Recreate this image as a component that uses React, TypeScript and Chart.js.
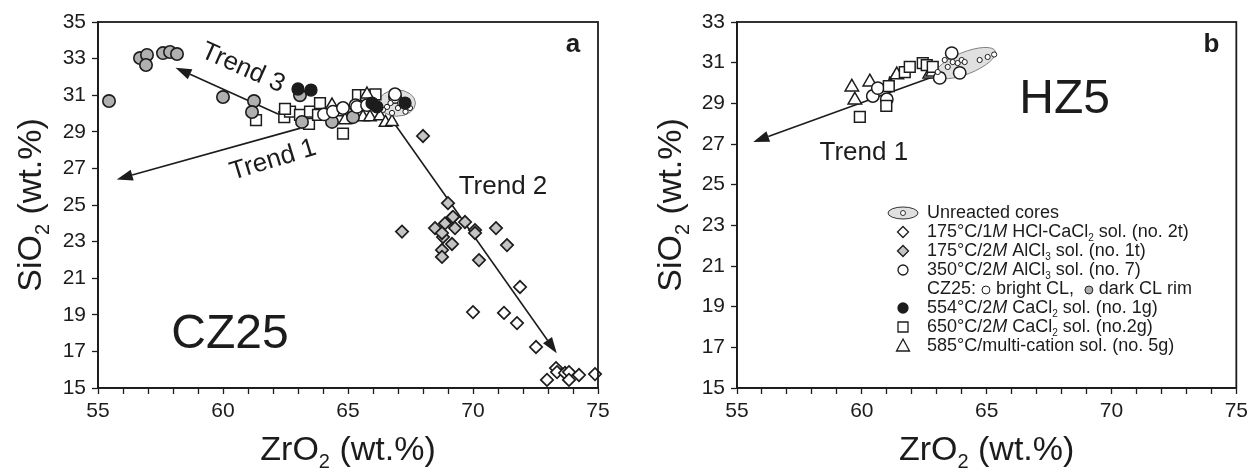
import React, { useEffect, useRef } from 'react';
import { Chart, registerables } from 'chart.js';

Chart.register(...registerables);

const FONT = '"Liberation Sans", Arial, Helvetica, sans-serif';
const INK = '#1c1c1c';
const GRAY_CIRCLE = '#b0b0b0';
const GRAY_DIAMOND = '#c4c4c4';

// ---------------- tick labels ----------------
const xMajorTicks = [55, 60, 65, 70, 75];
const yTicksA = [15, 17, 19, 21, 23, 25, 27, 29, 31, 33, 35];
const yTicksB = [15, 17, 19, 21, 23, 25, 27, 29, 31, 33];

// ---------------- panel a (CZ25) ----------------
const aHclDiamondX = [71.88, 70.0, 71.24, 71.76, 72.52, 72.96, 73.32, 73.36, 73.68, 73.84, 73.84, 74.24, 74.88];
const aHclDiamondY = [20.52, 19.15, 19.1, 18.55, 17.24, 15.44, 16.09, 15.87, 15.82, 15.87, 15.44, 15.71, 15.76];

const aAlDiamondX = [68.0, 69.0, 67.16, 68.48, 68.88, 69.16, 69.2, 69.28, 68.8, 68.76, 69.16, 68.76, 68.76, 69.68, 70.08, 70.08, 70.92, 71.36, 70.24];
const aAlDiamondY = [28.77, 25.1, 23.55, 23.74, 24.0, 24.3, 24.35, 23.74, 23.25, 23.47, 22.87, 22.54, 22.16, 24.07, 23.63, 23.47, 23.74, 22.81, 21.99];

const aDarkRimX = [55.44, 56.68, 56.96, 56.92, 57.6, 57.88, 58.16, 60.0, 61.24, 61.16, 63.16, 63.08, 64.36, 65.2];
const aDarkRimY = [30.68, 33.03, 33.2, 32.65, 33.3, 33.36, 33.25, 30.9, 30.68, 30.08, 29.54, 31.0, 29.54, 29.8];

const aCaCl554X = [63.0, 63.52, 65.96, 66.16, 67.28];
const aCaCl554Y = [31.34, 31.28, 30.57, 30.36, 30.57];

const aCaCl650X = [61.32, 62.45, 62.68, 63.08, 63.44, 63.48, 63.88, 63.8, 64.8, 65.4, 65.72, 66.1, 62.48];
const aCaCl650Y = [29.64, 29.8, 30.1, 29.92, 29.43, 30.1, 30.57, 29.92, 28.9, 31.0, 31.0, 31.05, 30.25];

const aMulti585X = [64.36, 64.8, 64.88, 65.76, 65.6, 65.88, 66.28, 66.5, 66.76];
const aMulti585Y = [30.45, 30.08, 29.64, 31.05, 29.8, 29.8, 29.85, 29.5, 29.54];

const aAl350X = [64.04, 64.4, 64.8, 65.3, 65.36, 65.76, 66.88, 66.88];
const aAl350Y = [29.95, 30.1, 30.3, 30.45, 30.36, 30.46, 30.9, 31.05];

const aCoreX = [66.56, 66.76, 67.0, 67.48, 66.7, 67.08, 67.3, 66.4];
const aCoreY = [30.36, 30.03, 30.3, 30.3, 30.57, 30.57, 30.1, 30.2];

// ---------------- panel b (HZ5) ----------------
const bMulti585X = [59.6, 59.72, 60.32, 61.4, 62.72, 62.84];
const bMulti585Y = [29.8, 29.16, 30.05, 30.4, 30.44, 30.54];

const bCaCl650X = [59.92, 60.98, 61.08, 61.72, 61.92, 62.44, 62.6, 62.84];
const bCaCl650Y = [28.33, 28.87, 29.85, 30.54, 30.79, 30.98, 30.88, 30.79];

const bAl350X = [60.44, 60.64, 61.0, 63.12, 63.6, 63.92];
const bAl350Y = [29.36, 29.75, 29.2, 30.25, 31.47, 30.5];

const bCoreX = [63.04, 63.32, 63.44, 63.64, 63.84, 64.0, 64.12, 64.72, 65.04, 65.3];
const bCoreY = [30.54, 31.13, 30.79, 31.03, 30.98, 31.13, 31.03, 31.13, 31.28, 31.4];

// ---------------- legend labels ----------------
type Seg = { t?: string; i?: boolean; sub?: boolean; b?: boolean; dot?: string };
const legendLabels: { icon: string; segs: Seg[] }[] = [
  { icon: 'ellipse', segs: [{ t: 'Unreacted cores' }] },
  { icon: 'diamondWhite', segs: [{ t: '175°C/1' }, { t: 'M', i: true }, { t: ' HCl-CaCl' }, { t: '2', sub: true }, { t: ' sol. (no. 2t)' }] },
  { icon: 'diamondGray', segs: [{ t: '175°C/2' }, { t: 'M', i: true }, { t: ' AlCl' }, { t: '3', sub: true }, { t: ' sol. (no. 1t)' }] },
  { icon: 'circleWhite', segs: [{ t: '350°C/2' }, { t: 'M', i: true }, { t: ' AlCl' }, { t: '3', sub: true }, { t: ' sol. (no. 7)' }] },
  { icon: 'none', segs: [{ t: 'CZ25: ' }, { dot: '#ffffff' }, { t: ' bright CL,  ' }, { dot: GRAY_CIRCLE }, { t: ' dark CL rim' }] },
  { icon: 'circleBlack', segs: [{ t: '554°C/2' }, { t: 'M', i: true }, { t: ' CaCl' }, { t: '2', sub: true }, { t: ' sol. (no. 1g)' }] },
  { icon: 'square', segs: [{ t: '650°C/2' }, { t: 'M', i: true }, { t: ' CaCl' }, { t: '2', sub: true }, { t: ' sol. (no.2g)' }] },
  { icon: 'triangle', segs: [{ t: '585°C/multi-cation sol. (no. 5g)' }] },
];

const xTitle: Seg[] = [{ t: 'ZrO' }, { t: '2', sub: true }, { t: ' (wt.%)' }];
const yTitle: Seg[] = [{ t: 'SiO' }, { t: '2', sub: true }, { t: ' (wt.%)' }];

// ---------------- drawing helpers ----------------
function segFont(s: Seg, size: number) {
  const sz = s.sub ? Math.round(size * 0.58) : size;
  return `${s.i ? 'italic ' : ''}${s.b ? 'bold ' : ''}${sz}px ${FONT}`;
}
function richWidth(ctx: CanvasRenderingContext2D, segs: Seg[], size: number) {
  let w = 0;
  for (const s of segs) {
    if (s.dot) { w += size * 0.55; continue; }
    ctx.font = segFont(s, size);
    w += ctx.measureText(s.t || '').width;
  }
  return w;
}
function drawRich(ctx: CanvasRenderingContext2D, segs: Seg[], x: number, y: number, size: number, align: 'left' | 'center') {
  const w = richWidth(ctx, segs, size);
  let cx = align === 'center' ? x - w / 2 : x;
  ctx.textAlign = 'left';
  ctx.textBaseline = 'middle';
  for (const s of segs) {
    if (s.dot) {
      const r = size * 0.22;
      ctx.beginPath();
      ctx.arc(cx + size * 0.275, y + 1, r, 0, Math.PI * 2);
      ctx.fillStyle = s.dot;
      ctx.fill();
      ctx.lineWidth = 1;
      ctx.strokeStyle = INK;
      ctx.stroke();
      ctx.fillStyle = INK;
      cx += size * 0.55;
      continue;
    }
    ctx.font = segFont(s, size);
    ctx.fillText(s.t || '', cx, y + (s.sub ? size * 0.34 : 0));
    cx += ctx.measureText(s.t || '').width;
  }
}
function drawArrow(ctx: CanvasRenderingContext2D, x1: number, y1: number, x2: number, y2: number, hl: number, hw: number) {
  const ang = Math.atan2(y2 - y1, x2 - x1);
  const bx = x2 - Math.cos(ang) * hl;
  const by = y2 - Math.sin(ang) * hl;
  ctx.beginPath();
  ctx.moveTo(x1, y1);
  ctx.lineTo(bx, by);
  ctx.stroke();
  ctx.beginPath();
  ctx.moveTo(x2, y2);
  ctx.lineTo(bx + Math.sin(ang) * hw / 2, by - Math.cos(ang) * hw / 2);
  ctx.lineTo(bx - Math.sin(ang) * hw / 2, by + Math.cos(ang) * hw / 2);
  ctx.closePath();
  ctx.fill();
}
function drawIcon(ctx: CanvasRenderingContext2D, icon: string, x: number, y: number) {
  ctx.lineWidth = 1.3;
  ctx.strokeStyle = INK;
  ctx.beginPath();
  if (icon === 'ellipse') {
    ctx.ellipse(x, y, 15, 6, 0, 0, Math.PI * 2);
    ctx.fillStyle = '#e0e0e0';
    ctx.fill();
    ctx.lineWidth = 0.9;
    ctx.stroke();
    ctx.beginPath();
    ctx.arc(x, y, 2.5, 0, Math.PI * 2);
    ctx.fillStyle = '#fff';
    ctx.fill();
    ctx.stroke();
    return;
  }
  if (icon === 'diamondWhite' || icon === 'diamondGray') {
    const r = 5.5;
    ctx.moveTo(x - r, y); ctx.lineTo(x, y - r); ctx.lineTo(x + r, y); ctx.lineTo(x, y + r); ctx.closePath();
    ctx.fillStyle = icon === 'diamondGray' ? GRAY_DIAMOND : '#fff';
  } else if (icon === 'circleWhite' || icon === 'circleBlack') {
    ctx.arc(x, y, 5, 0, Math.PI * 2);
    ctx.fillStyle = icon === 'circleBlack' ? INK : '#fff';
  } else if (icon === 'square') {
    ctx.rect(x - 5, y - 5, 10, 10);
    ctx.fillStyle = '#fff';
  } else if (icon === 'triangle') {
    ctx.moveTo(x, y - 7); ctx.lineTo(x + 6.5, y + 5); ctx.lineTo(x - 6.5, y + 5); ctx.closePath();
    ctx.fillStyle = '#fff';
  } else return;
  ctx.fill();
  ctx.stroke();
}

// ---------------- panel specs ----------------
type Series = { x: number[]; y: number[]; style: string; r: number; fill: string; bw: number };
type Arrow = { x1: number; y1: number; x2: number; y2: number; hl: number; hw: number };
type Txt = { t: string; x: number; y: number; size: number; rot: number; bold?: boolean };
type PanelSpec = {
  width: number; left: number; yAxisWidth: number; padRight: number;
  yMin: number; yMax: number; yTicks: number[]; yTitleX: number;
  series: Series[];
  ellipse: { x: number; y: number; rx: number; ry: number; rot: number };
  arrows: Arrow[];
  texts: Txt[];
  legend: boolean;
};

const panelA: PanelSpec = {
  width: 626, left: 0, yAxisWidth: 98, padRight: 28,
  yMin: 15, yMax: 35, yTicks: yTicksA, yTitleX: 32,
  series: [
    { x: aCaCl554X, y: aCaCl554Y, style: 'circle', r: 6, fill: INK, bw: 1.3 },
    { x: aCoreX, y: aCoreY, style: 'circle', r: 2.6, fill: '#fff', bw: 1 },
    { x: aAl350X, y: aAl350Y, style: 'circle', r: 6.2, fill: '#fff', bw: 1.5 },
    { x: aDarkRimX, y: aDarkRimY, style: 'circle', r: 6.2, fill: GRAY_CIRCLE, bw: 1.6 },
    { x: aMulti585X, y: aMulti585Y, style: 'triangle', r: 7.2, fill: '#fff', bw: 1.5 },
    { x: aCaCl650X, y: aCaCl650Y, style: 'rect', r: 7.6, fill: '#fff', bw: 1.5 },
    { x: aAlDiamondX, y: aAlDiamondY, style: 'rectRot', r: 6.2, fill: GRAY_DIAMOND, bw: 1.7 },
    { x: aHclDiamondX, y: aHclDiamondY, style: 'rectRot', r: 6.2, fill: '#fff', bw: 1.7 },
  ],
  ellipse: { x: 66.96, y: 30.57, rx: 0.74, ry: 0.72, rot: 0 },
  arrows: [
    { x1: 62.2, y1: 29.97, x2: 58.1, y2: 32.5, hl: 16, hw: 11 },
    { x1: 63.1, y1: 29.2, x2: 55.75, y2: 26.4, hl: 16, hw: 11 },
    { x1: 66.7, y1: 29.75, x2: 73.35, y2: 16.9, hl: 16, hw: 11 },
  ],
  texts: [
    { t: 'Trend 3', x: 60.8, y: 32.49, size: 26, rot: 24 },
    { t: 'Trend 1', x: 62.0, y: 27.45, size: 26, rot: -17 },
    { t: 'Trend 2', x: 71.2, y: 25.98, size: 26, rot: 0 },
    { t: 'CZ25', x: 60.28, y: 17.9, size: 48, rot: 0 },
    { t: 'a', x: 74.0, y: 33.74, size: 26, rot: 0, bold: true },
  ],
  legend: false,
};

const panelB: PanelSpec = {
  width: 627, left: 626, yAxisWidth: 111, padRight: 13,
  yMin: 15, yMax: 33, yTicks: yTicksB, yTitleX: 46,
  series: [
    { x: bCoreX, y: bCoreY, style: 'circle', r: 2.6, fill: '#fff', bw: 1 },
    { x: bCaCl650X, y: bCaCl650Y, style: 'rect', r: 7.6, fill: '#fff', bw: 1.5 },
    { x: bAl350X, y: bAl350Y, style: 'circle', r: 6.2, fill: '#fff', bw: 1.5 },
    { x: bMulti585X, y: bMulti585Y, style: 'triangle', r: 7.8, fill: '#fff', bw: 1.5 },
  ],
  ellipse: { x: 64.16, y: 30.98, rx: 1.28, ry: 0.54, rot: -0.38 },
  arrows: [
    { x1: 63.3, y1: 30.5, x2: 55.65, y2: 27.1, hl: 16, hw: 11 },
    { x1: 61.32, y1: 30.54, x2: 61.02, y2: 30.0, hl: 7, hw: 5 },
  ],
  texts: [
    { t: 'Trend 1', x: 60.08, y: 26.56, size: 26, rot: 0 },
    { t: 'HZ5', x: 68.12, y: 29.16, size: 48, rot: 0 },
    { t: 'b', x: 74.0, y: 31.87, size: 26, rot: 0, bold: true },
  ],
  legend: true,
};

function makeDecor(p: PanelSpec) {
  return {
    id: 'decor',
    beforeDatasetsDraw(chart: any) {
      const { ctx, scales } = chart;
      const xs = scales.x, ys = scales.y;
      ctx.save();
      const e = p.ellipse;
      const cx = xs.getPixelForValue(e.x), cy = ys.getPixelForValue(e.y);
      const rx = Math.abs(xs.getPixelForValue(e.x + e.rx) - cx);
      const ry = Math.abs(ys.getPixelForValue(e.y + e.ry) - cy);
      ctx.beginPath();
      ctx.ellipse(cx, cy, rx, ry, e.rot, 0, Math.PI * 2);
      ctx.fillStyle = '#e0e0e0';
      ctx.fill();
      ctx.strokeStyle = '#666';
      ctx.lineWidth = 0.8;
      ctx.stroke();
      ctx.strokeStyle = INK;
      ctx.fillStyle = INK;
      ctx.lineWidth = 1.6;
      for (const a of p.arrows) {
        drawArrow(ctx, xs.getPixelForValue(a.x1), ys.getPixelForValue(a.y1), xs.getPixelForValue(a.x2), ys.getPixelForValue(a.y2), a.hl, a.hw);
      }
      ctx.restore();
    },
    afterDraw(chart: any) {
      const { ctx, chartArea: ca, scales } = chart;
      const xs = scales.x, ys = scales.y;
      ctx.save();
      ctx.strokeStyle = INK;
      ctx.lineWidth = 1.8;
      ctx.strokeRect(ca.left, ca.top, ca.right - ca.left, ca.bottom - ca.top);
      ctx.fillStyle = INK;
      for (const t of p.texts) {
        ctx.save();
        ctx.translate(xs.getPixelForValue(t.x), ys.getPixelForValue(t.y));
        ctx.rotate((t.rot * Math.PI) / 180);
        ctx.font = `${t.bold ? 'bold ' : ''}${t.size}px ${FONT}`;
        ctx.textAlign = 'center';
        ctx.textBaseline = 'middle';
        ctx.fillText(t.t, 0, 0);
        ctx.restore();
      }
      // axis titles
      drawRich(ctx, xTitle, (ca.left + ca.right) / 2, 451, 34, 'center');
      ctx.save();
      ctx.translate(p.yTitleX, (ca.top + ca.bottom) / 2);
      ctx.rotate(-Math.PI / 2);
      drawRich(ctx, yTitle, 0, 0, 34, 'center');
      ctx.restore();
      // legend
      if (p.legend) {
        const ix = ca.left + 166, tx = ca.left + 190;
        legendLabels.forEach((item, i) => {
          const y = ca.top + 191 + i * 19;
          drawIcon(ctx, item.icon, ix, y);
          ctx.fillStyle = INK;
          drawRich(ctx, item.segs, tx, y, 18, 'left');
        });
      }
      ctx.restore();
    },
  };
}

function buildConfig(p: PanelSpec): any {
  const tickFont = { family: FONT, size: 21 };
  return {
    type: 'scatter',
    data: {
      datasets: p.series.map((s) => ({
        data: s.x.map((x, i) => ({ x, y: s.y[i] })),
        pointStyle: s.style,
        pointRadius: s.r,
        pointBackgroundColor: s.fill,
        pointBorderColor: INK,
        pointBorderWidth: s.bw,
        showLine: false,
        clip: false,
      })),
    },
    options: {
      animation: false,
      responsive: false,
      devicePixelRatio: 1,
      events: [],
      layout: { padding: { left: 0, right: p.padRight, top: 22, bottom: 0 } },
      plugins: { legend: { display: false }, tooltip: { enabled: false } },
      scales: {
        x: {
          type: 'linear',
          min: 55,
          max: 75,
          afterFit: (s: any) => { s.height = 86; },
          afterBuildTicks: (s: any) => {
            const t = [];
            for (let v = 55; v <= 75; v++) t.push({ value: v });
            s.ticks = t;
          },
          ticks: {
            autoSkip: false,
            maxRotation: 0,
            font: tickFont,
            color: INK,
            padding: 5,
            callback: (v: number) => (xMajorTicks.includes(v) ? String(v) : ''),
          },
          grid: { drawOnChartArea: false, drawTicks: true, tickLength: 6, tickColor: INK, tickWidth: 1.3 },
          border: { display: true, color: INK, width: 1.8 },
        },
        y: {
          type: 'linear',
          min: p.yMin,
          max: p.yMax,
          afterFit: (s: any) => { s.width = p.yAxisWidth; },
          afterBuildTicks: (s: any) => { s.ticks = p.yTicks.map((v) => ({ value: v })); },
          ticks: { autoSkip: false, font: tickFont, color: INK, padding: 6 },
          grid: { drawOnChartArea: false, drawTicks: true, tickLength: 6, tickColor: INK, tickWidth: 1.3 },
          border: { display: true, color: INK, width: 1.8 },
        },
      },
    },
    plugins: [makeDecor(p)],
  };
}

function Panel({ spec }: { spec: PanelSpec }) {
  const ref = useRef<HTMLCanvasElement>(null);
  useEffect(() => {
    const chart = new Chart(ref.current as HTMLCanvasElement, buildConfig(spec));
    return () => chart.destroy();
  }, [spec]);
  return (
    <canvas
      ref={ref}
      width={spec.width}
      height={474}
      style={{ position: 'absolute', left: spec.left, top: 0, width: spec.width, height: 474 }}
    />
  );
}

export default function App() {
  return (
    <div style={{ position: 'absolute', left: 0, top: 0, width: 1253, height: 474, background: '#fff', overflow: 'hidden' }}>
      <Panel spec={panelA} />
      <Panel spec={panelB} />
    </div>
  );
}
